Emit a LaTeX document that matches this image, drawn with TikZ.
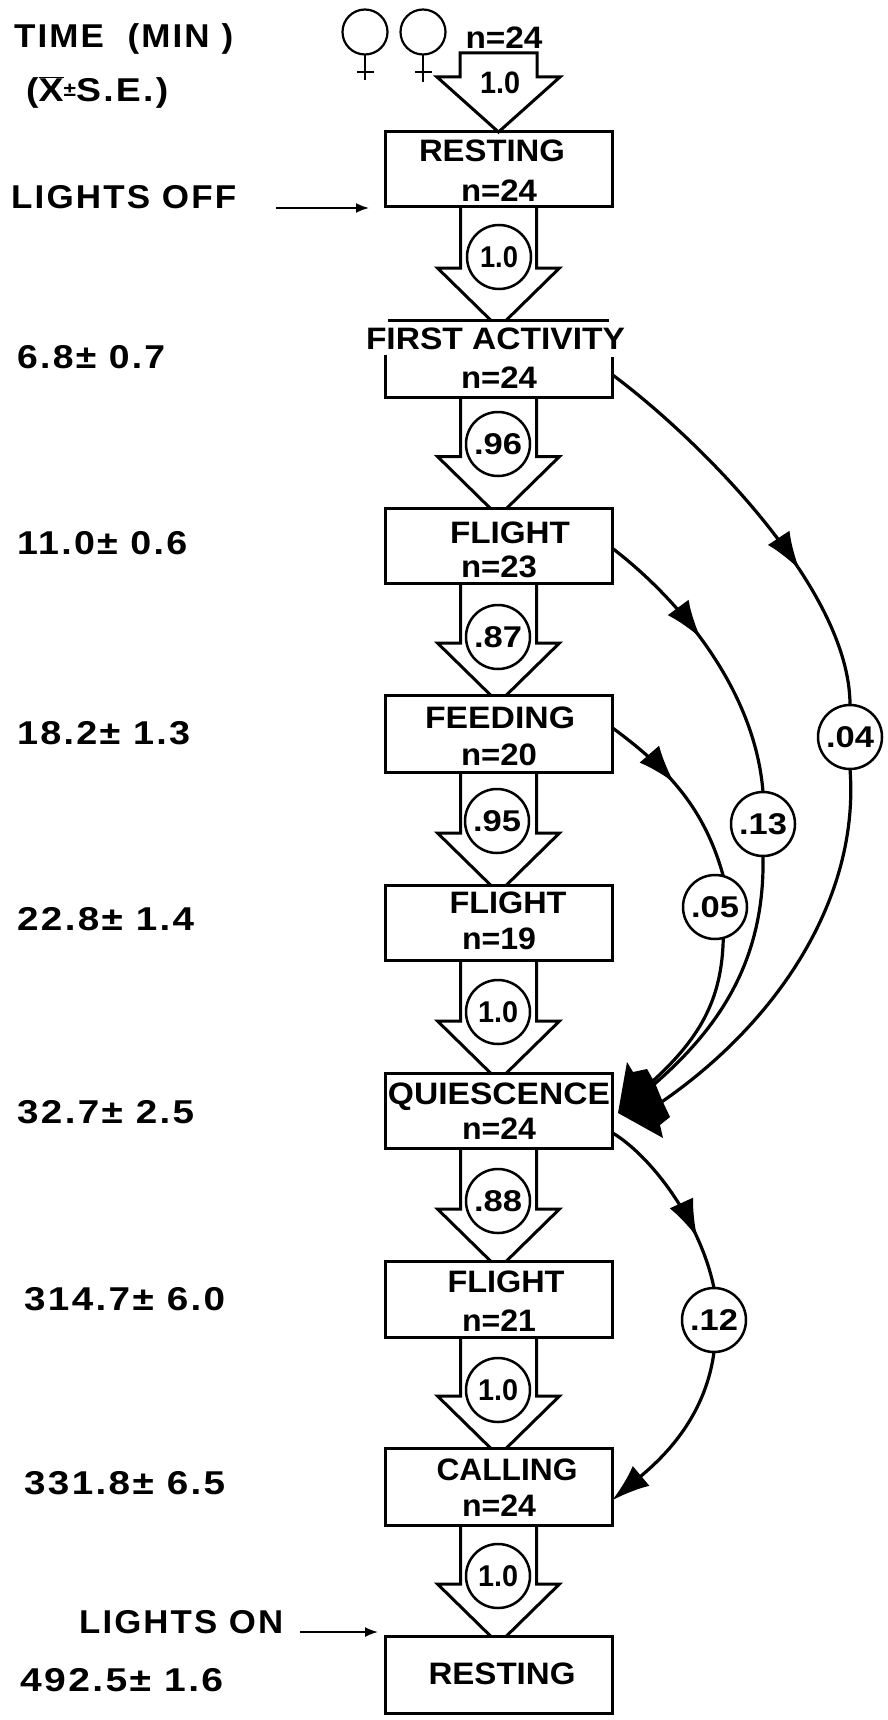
\documentclass[tikz,border=0pt]{standalone}
\usepackage{graphicx}
\usepackage{fontspec}
\setmainfont{Liberation Sans}
\newfontfamily\boxf{Liberation Sans Bold}
\newfontfamily\leftf[LetterSpace=6]{Liberation Sans Bold}
\usetikzlibrary{calc,arrows.meta,decorations.markings}
\newcommand\fitw[2]{\resizebox{#1pt}{\height}{#2}}
\tikzset{
  box/.style={draw,line width=3pt,minimum width=227pt,minimum height=75pt,inner sep=0pt,outer sep=0pt},
  openbox/.style={minimum width=227pt,minimum height=77pt,inner sep=0pt,outer sep=0pt},
  lab/.style={font=\boxf\fontsize{31}{36}\selectfont,inner sep=0pt,text height=22.5pt,text depth=0pt},
  tlab/.style={font=\leftf\fontsize{33}{38}\selectfont,inner sep=0pt,text height=23.5pt,text depth=0pt},
  prob/.style={draw,circle,fill=white,line width=2.5pt,minimum size=64pt,inner sep=0pt,outer sep=0pt,font=\boxf\fontsize{30}{34}\selectfont},
  blockarr/.style={line width=3pt,line join=miter,line cap=butt},
  curve/.style={line width=3.2pt},
  headat/.style={postaction={decorate},decoration={markings,mark=at position #1 with {\arrow{Latex[length=38pt,width=26pt]}}}},
  thin arr/.style={line width=1.8pt,-{Latex[length=13pt,width=10pt]}},
  fem/.style={draw,circle,line width=2.2pt,minimum size=45pt,inner sep=0pt,outer sep=0pt},
}
\newcommand\barrow[2]{%
  \draw[blockarr] ($(#1.south)+(-38,0)$) -- ($(#2.north)+(-38,-52)$) -- ($(#2.north)+(-61,-52)$) -- ($(#2.north)+(-8,0)$)
     ($(#2.north)+(8,0)$) -- ($(#2.north)+(61,-52)$) -- ($(#2.north)+(38,-52)$) -- ($(#1.south)+(38,0)$);}
\begin{document}
\begin{tikzpicture}[x=1pt,y=-1pt]
\useasboundingbox (0,0) rectangle (887,1720);
\fill[white] (0,0) rectangle (887,1720);
% boxes
\node[box] (rest1) at (498.5,169.5) {};
\node[openbox] (fa) at (498.5,358.5) {};
\node[box] (fl1) at (498.5,546) {};
\node[box,minimum height=77pt] (feed) at (498.5,733.5) {};
\node[box] (fl2) at (498.5,922.5) {};
\node[box] (quies) at (498.5,1110.5) {};
\node[box,minimum height=76pt] (fl3) at (498.5,1299) {};
\node[box,minimum height=77pt] (call) at (498.5,1486.5) {};
\node[box,minimum height=77pt] (rest2) at (498.5,1674.5) {};
\draw[line width=3pt] ($(fa.north west)+(3,0)$) -- ($(fa.north east)+(-3,0)$);
\draw[line width=3pt] ($(fa.west)+(0,-4)$) -- (fa.south west) -- (fa.south east) -- ($(fa.east)+(0,-2)$);
% box labels
\node[lab] (t1) at (492,150) {\fitw{146}{RESTING}};
\node[lab] (n1) at (499,190) {\fitw{76}{n=24}};
\node[lab,fill=white,inner ysep=3pt] (t2) at (495.5,338) {\fitw{259}{FIRST ACTIVITY}};
\node[lab] (n2) at (499,377) {\fitw{76}{n=24}};
\node[lab] (t3) at (510,532) {\fitw{120}{FLIGHT}};
\node[lab] (n3) at (499,566) {\fitw{76}{n=23}};
\node[lab] (t4) at (500,717) {\fitw{150}{FEEDING}};
\node[lab] (n4) at (499,754) {\fitw{76}{n=20}};
\node[lab] (t5) at (508,902) {\fitw{117}{FLIGHT}};
\node[lab] (n5) at (499,938) {\fitw{74}{n=19}};
\node[lab] (t6) at (499,1093) {\fitw{222}{QUIESCENCE}};
\node[lab] (n6) at (499,1128) {\fitw{74}{n=24}};
\node[lab] (t7) at (506,1281) {\fitw{117}{FLIGHT}};
\node[lab] (n7) at (499,1320) {\fitw{74}{n=21}};
\node[lab] (t8) at (507,1469) {\fitw{141}{CALLING}};
\node[lab] (n8) at (499,1505) {\fitw{74}{n=24}};
\node[lab] (t9) at (502,1673) {\fitw{147}{RESTING}};
% top input
\node[lab] (ntop) at (504,37) {\fitw{77}{n=24}};
\node[lab] (ptop) at (500,82) {\fitw{40}{1.0}};
\coordinate (topa) at (460,53);
\coordinate (topb) at (537,53);
\draw[blockarr] (topa) -- (topb) -- (537,77) -- (560,77) -- (rest1.north) -- (437,77) -- (460,77) -- cycle;
% block arrows
\barrow{rest1}{fa}
\barrow{fa}{fl1}
\barrow{fl1}{feed}
\barrow{feed}{fl2}
\barrow{fl2}{quies}
\barrow{quies}{fl3}
\barrow{fl3}{call}
\barrow{call}{rest2}
% probability circles
\node[prob] (p1) at (499,257) {\fitw{38}{1.0}};
\node[prob] (p2) at (498,444) {\fitw{48}{.96}};
\node[prob] (p3) at (498,637) {\fitw{48}{.87}};
\node[prob] (p4) at (497,821) {\fitw{48}{.95}};
\node[prob] (p5) at (498,1012) {\fitw{40}{1.0}};
\node[prob] (p6) at (498,1201) {\fitw{48}{.88}};
\node[prob] (p7) at (498,1390) {\fitw{40}{1.0}};
\node[prob] (p8) at (498,1576) {\fitw{40}{1.0}};
\node[prob] (c04) at (850,737) {\fitw{48}{.04}};
\node[prob] (c13) at (763,824) {\fitw{48}{.13}};
\node[prob] (c05) at (715,907) {\fitw{48}{.05}};
\node[prob] (c12) at (714,1320) {\fitw{48}{.12}};
% side connectors
\coordinate (in04) at (645,1113);
\coordinate (in13) at (645,1092);
\coordinate (in05) at (645,1088);
\draw[curve,headat=0.65] (fa.-8.3) .. controls (700,440) and (850,590) .. (c04.north);
\draw[curve] (c04.south) .. controls (860,900) and (775,1030) .. (in04);
\draw[curve,headat=0.43] (fl1.-1) .. controls (680,600) and (755,690) .. (c13.north);
\draw[curve] (c13.south) .. controls (765,960) and (720,1030) .. (in13);
\draw[curve,headat=0.44] (feed.3.8) .. controls (670,770) and (705,810) .. (c05.75);
\draw[curve] (c05.-75) .. controls (722,1000) and (700,1040) .. (in05);
\draw[curve,headat=0.72] (quies.-11) .. controls (650,1155) and (700,1220) .. (c12.north);
\draw[curve,-{Latex[length=38pt,width=26pt]}] (c12.south) .. controls (705,1420) and (660,1460) .. (call.-7.8);
\fill (627,1062) -- (633,1072) -- (647,1069) -- (655,1083) -- (662,1100) -- (670,1117) -- (660,1125) -- (663,1138) -- (618,1113) -- cycle;
% left labels
\node[tlab,anchor=west] (time) at (14,36) {\fitw{219}{TIME\ \ (MIN\ )}};
\node[tlab,anchor=west] (xse) at (26,90) {\fitw{142}{($\overline{\hbox{X}}$\raisebox{5pt}{\fontsize{20}{20}\selectfont±}S.E.)}};
\node[tlab,anchor=west] (off) at (11,197) {\fitw{225}{LIGHTS OFF}};
\node[tlab,anchor=west] (v1) at (17,357) {\fitw{148}{6.8± 0.7}};
\node[tlab,anchor=west] (v2) at (17,543) {\fitw{170}{11.0± 0.6}};
\node[tlab,anchor=west] (v3) at (17,733) {\fitw{173}{18.2± 1.3}};
\node[tlab,anchor=west] (v4) at (17,919) {\fitw{177}{22.8± 1.4}};
\node[tlab,anchor=west] (v5) at (17,1112) {\fitw{177}{32.7± 2.5}};
\node[tlab,anchor=west] (v6) at (24,1299) {\fitw{201}{314.7± 6.0}};
\node[tlab,anchor=west] (v7) at (24,1483) {\fitw{201}{331.8± 6.5}};
\node[tlab,anchor=west] (on) at (79,1622) {\fitw{204}{LIGHTS ON}};
\node[tlab,anchor=west] (v8) at (20,1680) {\fitw{203}{492.5± 1.6}};
% lights arrows
\coordinate (offs) at (276,208);
\coordinate (offe) at (369,208);
\coordinate (ons) at (300,1632);
\coordinate (one) at (378,1632);
\draw[thin arr] (offs) -- (offe);
\draw[thin arr] (ons) -- (one);
% female symbols
\node[fem] (f1) at (365,32) {};
\node[fem] (f2) at (423,32) {};
\coordinate (f1e) at (365,80);
\coordinate (f2e) at (423,82);
\coordinate (f1a) at (357,72);
\coordinate (f1b) at (374,72);
\coordinate (f2a) at (415,72);
\coordinate (f2b) at (432,72);
\draw[line width=2.2pt] (f1.south) -- (f1e) (f1a) -- (f1b);
\draw[line width=2.2pt] (f2.south) -- (f2e) (f2a) -- (f2b);
\end{tikzpicture}
\end{document}
